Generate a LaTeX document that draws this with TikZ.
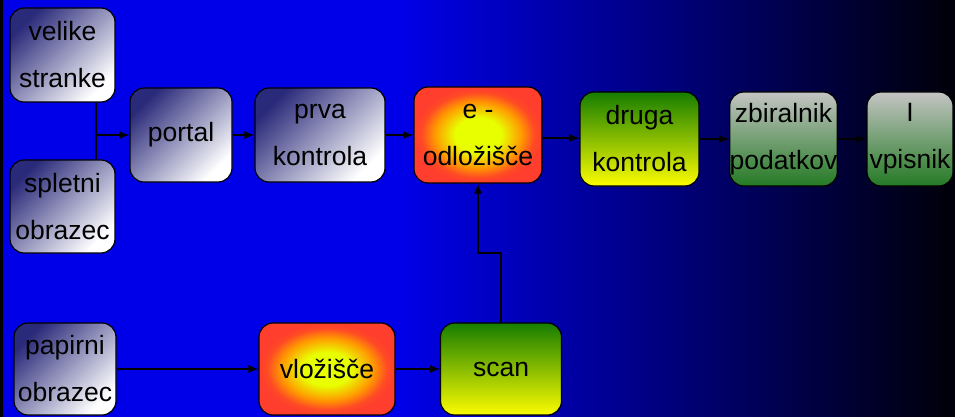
\documentclass[tikz,border=0pt]{standalone}
\usepackage{fontspec}
\setmainfont{Liberation Sans}
\usetikzlibrary{arrows.meta}
\definecolor{bgblue}{RGB}{0,0,232}
\definecolor{bgdark}{RGB}{0,0,8}
\definecolor{navybox}{RGB}{42,42,122}
\definecolor{hotred}{RGB}{255,62,45}
\definecolor{hotyellow}{RGB}{232,255,0}
\definecolor{leafgreen}{RGB}{22,125,0}
\definecolor{lemon}{RGB}{252,252,0}
\definecolor{silver}{RGB}{196,196,196}
\definecolor{moss}{RGB}{36,122,36}
\pgfdeclareradialshading{hotspot}{\pgfpoint{0bp}{0bp}}{%
  color(0bp)=(hotyellow); color(9bp)=(hotyellow); color(17bp)=(orange!80!yellow);
  color(22bp)=(hotred!80!orange); color(25bp)=(hotred); color(50bp)=(hotred)}
\tikzset{
  box/.style={draw=black, rounded corners=14pt, align=center, inner sep=0pt,
    font=\fontsize{26.5}{47}\selectfont},
  greybox/.style={box, top color=navybox, middle color=navybox!22!white,
    bottom color=white, shading angle=45},
  hotbox/.style={box, shading=hotspot},
  limebox/.style={box, top color=leafgreen, bottom color=lemon},
  mossbox/.style={box, top color=silver, middle color=silver!80!moss, bottom color=moss},
}
\begin{document}
\begin{tikzpicture}[x=1pt, y=-1pt, >={Latex[length=10pt,width=8pt]}, line width=1.2pt]
\useasboundingbox (0,0) rectangle (955,417);
% background
\fill[bgblue] (0,0) rectangle (400,417);
\shade[left color=bgblue, right color=bgdark] (400,0) rectangle (955,417);
\fill[black] (0,0) rectangle (3,417);

% upper row
\node[greybox, minimum width=105pt, minimum height=94pt] (vel) at (62.5,55) {velike\\stranke};
\node[greybox, minimum width=105pt, minimum height=93pt] (spl) at (62.5,206.5) {spletni\\obrazec};
\node[greybox, minimum width=102pt, minimum height=94pt] (por) at (181,135) {portal};
\node[greybox, minimum width=130pt, minimum height=94pt] (prv) at (320,135) {prva\\kontrola};
\node[hotbox, minimum width=128pt, minimum height=96pt] (eod) at (478,135) {e -\\odložišče};
\node[limebox, minimum width=119pt, minimum height=94pt] (dru) at (639.5,139) {druga\\kontrola};
\node[mossbox, minimum width=107pt, minimum height=94pt] (zbi) at (783.5,139) {zbiralnik\\podatkov};
\node[mossbox, minimum width=86pt, minimum height=94pt] (vpi) at (910,139) {I\\vpisnik};

% lower row
\node[greybox, minimum width=102pt, minimum height=92pt] (pap) at (65,369) {papirni\\obrazec};
\node[hotbox, minimum width=136pt, minimum height=92pt] (vlo) at (327,369) {vložišče};
\node[limebox, minimum width=121pt, minimum height=92pt] (sca) at (501,369) {scan};

% connectors
\coordinate (join) at (96,135);
\draw (vel.south -| join) -- (spl.north -| join);
\draw[->] (join) -- (por.west);
\draw[->] (por.east) -- (prv.west);
\draw[->] (prv.east) -- (eod.west);
\draw[->] (eod.east |- 0,138) -- (dru.west |- 0,138);
\draw[->] (dru.east) -- (zbi.west);
\draw[->] (zbi.east) -- (vpi.west);
\draw[->] (pap.east) -- (vlo.west);
\draw[->] (vlo.east) -- (sca.west);
\draw[->] (sca.north) -- (sca.north |- 0,253) -| (eod.south);
\end{tikzpicture}
\end{document}
